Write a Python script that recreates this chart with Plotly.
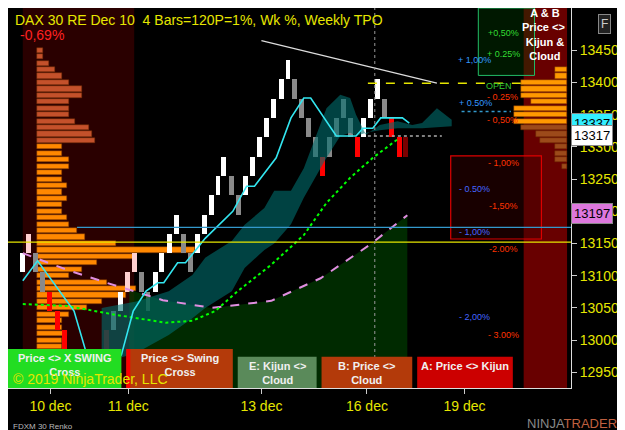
import plotly.graph_objects as go

BRICK = 30
brick_x = [15,21,28,35,42,50,57,100,107,114,121,128,135,142,150,156,164,171,178,185,192,199,206,213,219,227,234,241,248,255,262,269,277,284,291,298,305,312,319,326,333,340,347,354,361,368,375,382,389,397,403]
brick_lo = [13105,13135,13105,13075,13045,13015,12985,12985,13015,13045,13075,13105,13075,13045,13075,13105,13135,13165,13135,13105,13135,13165,13195,13225,13255,13225,13195,13225,13255,13285,13315,13345,13375,13405,13375,13345,13315,13285,13255,13285,13315,13345,13315,13285,13315,13345,13375,13345,13315,13285,13285]
brick_c = ['w','p','g','g','r','r','r','d','g','w','p','p','g','g','w','w','w','w','g','g','w','w','w','w','w','g','g','w','w','w','w','w','w','w','g','g','g','g','r','g','g','g','g','r','w','w','w','g','r','r','d']
cmap = {'w':'#ffffff','p':'#ffd0d0','g':'#8a8a8a','r':'#ff0000','d':'#7a0000'}

prof_p = [13450,13440,13430,13420,13410,13400,13390,13380,13370,13360,13350,13340,13330,13320,13310,13300,13290,13280,13270,13260,13250,13240,13230,13220,13210,13200,13190,13180,13170,13160,13150,13140,13130,13120,13110,13100,13090,13080,13070,13060,13050,13040,13030,13020,13010,13000,12990,12980,12970,12960,12950,12940]
prof_w = [35,35,42,48,55,62,75,75,62,62,62,68,82,85,88,55,55,62,62,55,55,60,55,60,55,55,60,62,70,78,110,190,130,90,75,62,100,130,120,95,80,62,55,55,60,55,55,55,60,55,55,55]
rprof_p = [13420,13410,13400,13390,13380,13370,13360,13350,13340,13330,13320,13310,13300,13290,13280,13270]
rprof_x = [555,555,520,520,520,530,513,513,513,520,535,540,555,555,555,562]

kij_x = [15,30,67,80,100,115,127,140,152,158,172,180,200,228,242,250,272,287,300,307,333,353,360,370,378,400,407]
kij_y = [13092,13123,13045,12977,12952,12977,13045,13076,13089,13089,13120,13120,13158,13200,13239,13239,13283,13345,13376,13376,13317,13317,13329,13329,13345,13345,13337]
sma_x = [15,60,110,160,187,210,233,267,300,323,347,370,397]
sma_y = [13056,13053,13039,13027,13030,13045,13076,13117,13163,13213,13252,13283,13314]
pk_x = [15,60,100,123,157,207,267,317,367,405]
pk_y = [13135,13109,13089,13078,13062,13050,13061,13096,13148,13194]
cl_x = [95,130,163,187,200,227,240,260,270,287,300,323,337,347,353,363,377,395,410,420,435,450]
cl_up = [13050,13060,13076,13101,13128,13154,13179,13205,13232,13232,13267,13360,13381,13376,13350,13319,13334,13340,13334,13337,13360,13342]
cl_lo = [12964,12980,13008,13034,13050,13076,13112,13140,13150,13180,13221,13283,13317,13322,13317,13322,13326,13329,13329,13329,13330,13332]

tick_x = [43,122,257,364,463]
tick_t = ['10 dec','11 dec','13 dec','16 dec','19 dec']
YMIN, YMAX = 12925.6, 13515.7

fig = go.Figure()
def rect(x0,x1,y0,y1,fill,line=None,lw=0,layer='below'):
    fig.add_shape(type='rect',x0=x0,x1=x1,y0=y0,y1=y1,fillcolor=fill,layer=layer,
                  line=dict(color=line or 'rgba(0,0,0,0)',width=lw))
rect(15,128,YMIN,YMAX,'#2a0000')
rect(523,567,YMIN,YMAX,'#680000')
gx = [p for p in pk_x if p>=123]
gy = [v for p,v in zip(pk_x,pk_y) if p>=123]
fig.add_trace(go.Scatter(x=[123]+gx+[405,405,123], y=[YMIN]+gy+[13194,YMIN,YMIN], mode='lines',line=dict(width=0),
    fill='toself',fillcolor='rgba(0,70,0,0.6)',showlegend=False,hoverinfo='skip'))
fig.add_trace(go.Scatter(x=cl_x+cl_x[::-1], y=cl_up+cl_lo[::-1], fill='toself', fillcolor='rgba(0,110,110,0.6)', line=dict(width=0), mode='lines', showlegend=False))
fig.add_trace(go.Bar(orientation='h', y=prof_p, x=[w-29 for w in prof_w], base=29, width=8,
    marker=dict(color=['#c4512b' if p>=13310 else '#ff8800' for p in prof_p], line=dict(color='#6a2a00', width=0.5)), showlegend=False))
fig.add_trace(go.Bar(orientation='h', y=rprof_p, x=[567-v for v in rprof_x], base=rprof_x, width=8,
    marker=dict(color=['#ff9900' if p>=13340 else '#9c4a1a' for p in rprof_p], line=dict(color='#6a2a00', width=0.5)), showlegend=False))
fig.add_trace(go.Bar(x=brick_x, y=[BRICK]*len(brick_x), base=brick_lo, width=5,
    marker=dict(color=[cmap[c] for c in brick_c], line=dict(width=0)), showlegend=False))
fig.add_trace(go.Scatter(x=pk_x, y=pk_y, mode='lines', line=dict(color='#e08ee0', width=2, dash='dash'), showlegend=False))
fig.add_trace(go.Scatter(x=sma_x, y=sma_y, mode='lines', line=dict(color='#00ff00', width=2, dash='dot'), showlegend=False))
fig.add_trace(go.Scatter(x=kij_x, y=kij_y, mode='lines', line=dict(color='#33e6f0', width=1.6), showlegend=False))
fig.add_trace(go.Scatter(x=[257,435], y=[13465,13399], mode='lines', line=dict(color='#dddddd', width=1.2), showlegend=False))
def hl(x0,x1,y,c,dash='solid',w=1.2):
    fig.add_shape(type='line',x0=x0,x1=x1,y0=y,y1=y,line=dict(color=c,width=w,dash=dash))
hl(0,571,13152,'#e6e600')
hl(70,571,13175,'#3399cc',w=1.2)
hl(365,520,13399,'#e6e600','dash',1.5)
hl(365,440,13317,'#aaaaaa','dot',1.5)
hl(460,510,13355,'#3399cc','dot',1.5)
fig.add_shape(type='line',x0=372,x1=372,y0=YMIN,y1=YMAX,line=dict(color='#999999',width=1,dash='dot'))
rect(477,534,13411,YMAX,'rgba(0,70,0,0.35)','#22bb66',1)
rect(449,541,13157,13286,'rgba(60,0,0,0.4)','#dd0000',1.2)

F='Liberation Sans'
def txt(x,y,t,c,s=9,xa='center'):
    fig.add_annotation(x=x,y=y,text=t,showarrow=False,font=dict(family=F,size=s,color=c),xanchor=xa)
for x,y,t,c in [(503,13477,'+0,50%','#33dd33'),(503,13444,'+ 0.25%','#33dd33'),(473,13435,'+ 1,00%','#3399ff'),
                (474,13368,'+ 0.50%','#3399ff'),(498,13395,'OPEN','#33cc33'),(502,13378,'- 0.25%','#ff3300'),
                (502,13342,'- 0,50%','#ff3300'),(503,13275,'- 1,00%','#ff3300'),(473,13235,'- 0.50%','#4466ff'),
                (503,13208,'-1,50%','#ff3300'),(473,13168,'- 1,00%','#4466ff'),(503,13141,'-2.00%','#ff3300'),
                (473,13036,'- 2,00%','#4466ff'),(503,13008,'- 3.00%','#ff3300')]:
    txt(x,y,t,c)
fig.add_annotation(x=545,y=13474,text='<b>A & B<br>Price <> <br>Kijun &<br>Cloud</b>',showarrow=False,
    font=dict(family=F,size=11,color='white'),xanchor='center',yanchor='middle')
fig.add_annotation(xref='paper',yref='paper',x=0.008,y=0.996,xanchor='left',yanchor='top',showarrow=False,
    text='DAX 30 RE Dec 10  4 Bars=120P=1%, Wk %, Weekly TPO',font=dict(family=F,size=14,color='#e6e600'))
fig.add_annotation(xref='paper',yref='paper',x=0.018,y=0.955,xanchor='left',yanchor='top',showarrow=False,
    text='-0,69%',font=dict(family=F,size=14,color='#ff2222'))
for x0,x1,y0,t,bg in [(0,115,12986,'Price <> X SWING<br>Cross','#22dd22'),(120,228,12986,'Price <> Swing<br>Cross','#b43a0a'),
                      (233,313,12974,'E: Kijun <><br>Cloud','#5a8a5a'),(318,410,12974,'B: Price <><br>Cloud','#b33a0a'),
                      (415,512,12974,'A: Price <> Kijun','#cc0000')]:
    rect(x0,x1,YMIN,y0,bg,layer='above')
    fig.add_annotation(x=(x0+x1)/2,y=y0-2,yanchor='top',text=f'<b>{t}</b>',showarrow=False,
        font=dict(family=F,size=11,color='#f0f0f0'))
rect(120,124,YMIN,12986,'#ff0000',layer='above')
fig.add_annotation(x=3,y=12940,xanchor='left',text='© 2019 NinjaTrader, LLC',showarrow=False,font=dict(family=F,size=14,color='#e6e600'))
for y,t,bg in [(13337,'13337','#33eeff'),(13317,'13317','#ffffff'),(13197,'13197','#dd77dd')]:
    fig.add_annotation(xref='paper',x=1.0,y=y,xanchor='left',text=t,showarrow=False,bgcolor=bg,
        bordercolor='#888',borderpad=2,font=dict(family=F,size=13,color='#000'))
fig.add_annotation(xref='paper',yref='paper',x=1.06,y=0.985,xanchor='center',yanchor='top',text='F',showarrow=False,
    bgcolor='#222',bordercolor='#888',borderpad=2,font=dict(family=F,size=12,color='#ccc'))
fig.add_annotation(xref='paper',yref='paper',x=0.005,y=-0.1,xanchor='left',yanchor='middle',text='FDXM 30 Renko',showarrow=False,
    font=dict(family=F,size=8,color='#bbbbbb'))
fig.add_annotation(xref='paper',yref='paper',x=1.085,y=-0.093,xanchor='right',yanchor='middle',
    text='<span style="color:#888">NINJA</span><span style="color:#c06040">TRADER</span>',showarrow=False,
    font=dict(family=F,size=13,color='#888'))

fig.update_layout(width=625,height=430,margin=dict(l=0,r=62,t=0,b=50,autoexpand=False),paper_bgcolor='black',plot_bgcolor='black',
    barmode='overlay',bargap=0,
    xaxis=dict(range=[0,571],showgrid=False,zeroline=False,tickvals=tick_x,ticktext=tick_t,ticks='outside',ticklen=5,
               tickcolor='#ccc',showline=True,linecolor='#ddd',tickfont=dict(family=F,size=14,color='#e6e600')),
    yaxis=dict(range=[YMIN,YMAX],side='right',showgrid=False,zeroline=False,tickvals=list(range(12950,13451,50)),
               tickformat='d',ticks='outside',ticklen=5,tickcolor='#ccc',showline=True,linecolor='#ddd',
               tickfont=dict(family=F,size=14,color='#e6e600')),
    showlegend=False)
fig.write_html('out.html')
